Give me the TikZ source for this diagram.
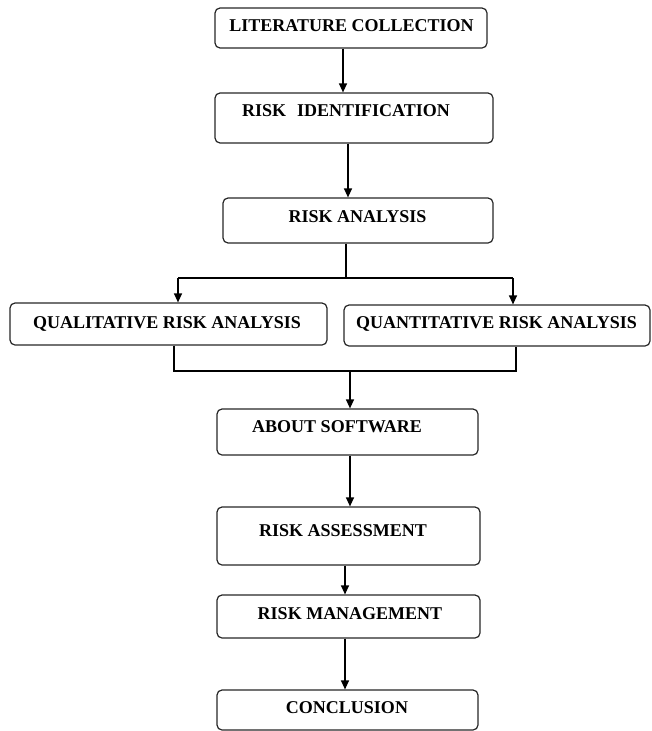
\documentclass[tikz,border=0pt]{standalone}
\usepackage{fontspec}
\setmainfont{Liberation Serif}
\usetikzlibrary{arrows.meta}
\tikzset{
  box/.style={draw=black!85, line width=1.2pt, rounded corners=5pt},
  txt/.style={font=\fontsize{18pt}{20pt}\selectfont\bfseries, inner sep=0pt, text height=11.9pt, text depth=0pt, anchor=center},
  arr/.style={line width=1.2pt, -{Triangle[length=9pt,width=8pt]}},
  ln/.style={line width=1.2pt}
}
\begin{document}
\begin{tikzpicture}[x=1pt,y=1pt]
\useasboundingbox (0,0) rectangle (651,-731);
% boxes
\node[box, minimum width=272pt, minimum height=40pt, inner sep=0pt] (n1) at (351,-28) {};
\node[box, minimum width=278pt, minimum height=50pt, inner sep=0pt] (n2) at (354,-118) {};
\node[box, minimum width=270pt, minimum height=45pt, inner sep=0pt] (n3) at (358,-220.5) {};
\node[box, minimum width=317pt, minimum height=42pt, inner sep=0pt] (q1) at (168.5,-324) {};
\node[box, minimum width=306pt, minimum height=41pt, inner sep=0pt] (q2) at (497,-325.5) {};
\node[box, minimum width=261pt, minimum height=46pt, inner sep=0pt] (n4) at (347.5,-432) {};
\node[box, minimum width=263pt, minimum height=58pt, inner sep=0pt] (n5) at (348.5,-536) {};
\node[box, minimum width=263pt, minimum height=43pt, inner sep=0pt] (n6) at (348.5,-616.5) {};
\node[box, minimum width=261pt, minimum height=40pt, inner sep=0pt] (n7) at (347.5,-710) {};
% texts
\node[txt] (t1) at (351.5,-26) {LITERATURE COLLECTION};
\node[txt] (t2) at (346,-111) {RISK\hspace{11pt}IDENTIFICATION};
\node[txt] (t3) at (357.5,-217) {RISK ANALYSIS};
\node[txt] (t4) at (167,-323) {QUALITATIVE RISK ANALYSIS};
\node[txt] (t5) at (496.5,-323) {QUANTITATIVE RISK ANALYSIS};
\node[txt] (t6) at (337,-427) {ABOUT SOFTWARE};
\node[txt] (t7) at (343,-531) {RISK ASSESSMENT};
\node[txt] (t8) at (350,-614) {RISK MANAGEMENT};
\node[txt] (t9) at (347,-708) {CONCLUSION};
% connectors
\draw[arr] (n1.south -| 343,0) -- (n2.north -| 343,0);
\draw[arr] (n2.south -| 348,0) -- (n3.north -| 348,0);
\coordinate (b1) at (346,-278);
\coordinate (bl) at (178,-278);
\coordinate (br) at (513,-278);
\draw[ln] (n3.south -| b1) -- (b1);
\draw[ln] (bl) -- (br);
\draw[arr] (bl) -- (q1.north -| bl);
\draw[arr] (br) -- (q2.north -| br);
\coordinate (jl) at (174,-371);
\coordinate (jr) at (516,-371);
\coordinate (jm) at (350,-371);
\draw[ln] (q1.south -| jl) -- (jl) -- (jr) -- (q2.south -| jr);
\draw[arr] (jm) -- (n4.north -| jm);
\draw[arr] (n4.south -| 350,0) -- (n5.north -| 350,0);
\draw[arr] (n5.south -| 345,0) -- (n6.north -| 345,0);
\draw[arr] (n6.south -| 345,0) -- (n7.north -| 345,0);
\end{tikzpicture}
\end{document}
